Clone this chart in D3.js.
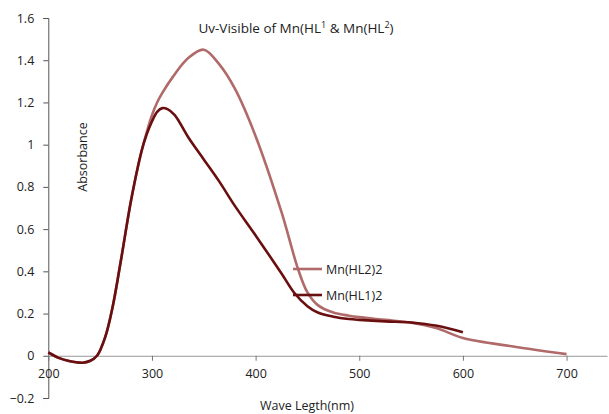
<!DOCTYPE html>
<html>
<head>
<meta charset="utf-8">
<script src="https://cdn.jsdelivr.net/npm/d3@7"></script>
<style>
  body { margin: 0; background: #fff; }
  text { font-family: "Open Sans", "Noto Sans", sans-serif; fill: #222; }
</style>
</head>
<body>
<svg id="chart"></svg>
<script>
// Wavelengths (nm) and absorbance
const wlHL1 = [200, 210, 220, 233, 240, 247, 255, 262, 270, 280, 290, 295, 300, 305, 310, 315, 322, 335, 350, 365, 380, 400, 425, 437, 450, 460, 475, 490, 500, 525, 550, 575, 600];
const absHL1 = [0.016, -0.01, -0.025, -0.033, -0.025, 0.0, 0.09, 0.23, 0.45, 0.74, 0.97, 1.05, 1.11, 1.155, 1.173, 1.168, 1.14, 1.035, 0.93, 0.825, 0.71, 0.57, 0.39, 0.30, 0.235, 0.205, 0.185, 0.174, 0.17, 0.163, 0.158, 0.142, 0.111];

const wlHL2 = [200, 210, 220, 233, 240, 247, 255, 262, 270, 280, 290, 295, 300, 305, 310, 320, 335, 350, 365, 380, 400, 425, 441, 450, 460, 475, 490, 500, 525, 550, 575, 600, 650, 700];
const absHL2 = [0.016, -0.01, -0.025, -0.033, -0.025, 0.0, 0.09, 0.23, 0.45, 0.74, 0.97, 1.06, 1.14, 1.2, 1.245, 1.32, 1.41, 1.45, 1.38, 1.265, 1.04, 0.68, 0.41, 0.30, 0.24, 0.205, 0.19, 0.183, 0.17, 0.157, 0.13, 0.084, 0.043, 0.008];

const xTicks = [200, 300, 400, 500, 600, 700];
const yTicks = [-0.2, 0, 0.2, 0.4, 0.6, 0.8, 1, 1.2, 1.4, 1.6];

const series = [
    { name: "Mn(HL2)2", wl: wlHL2, abs: absHL2, color: "#b06a6a", legendY: 269 },
    { name: "Mn(HL1)2", wl: wlHL1, abs: absHL1, color: "#6a0f0f", legendY: 295 },
];

const width = 609, height = 414;
const svg = d3.select("#chart").attr("width", width).attr("height", height);

// plot scales
const x = d3.scaleLinear().domain([200, 739]).range([48.3, 607]);
const y = d3.scaleLinear().domain([-0.2, 1.6]).range([398, 18]);

// y axis
const yAxis = svg.append("g")
    .attr("transform", `translate(${x(200)},0)`)
    .call(d3.axisLeft(y).tickValues(yTicks).tickSize(5).tickFormat(d => d3.format("")(+d.toFixed(1))));
yAxis.select(".domain").attr("stroke", "#555");
yAxis.selectAll(".tick line").attr("stroke", "#555");
yAxis.selectAll(".tick text").attr("x", -14).attr("font-size", 12.5)
    .attr("font-family", "'Open Sans', sans-serif").attr("fill", "#222");

// x axis at y = 0
const xAxis = svg.append("g")
    .attr("transform", `translate(0,${y(0)})`)
    .call(d3.axisBottom(x).tickValues(xTicks).tickSize(5).tickSizeOuter(0));
xAxis.select(".domain").attr("stroke", "#999");
xAxis.selectAll(".tick line").attr("stroke", "#777");
xAxis.selectAll(".tick text").attr("y", 13).attr("font-size", 12.5)
    .attr("font-family", "'Open Sans', sans-serif").attr("fill", "#222");

// lines
const line = d3.line()
    .x(d => x(d[0]))
    .y(d => y(d[1]))
    .curve(d3.curveCatmullRom.alpha(0.5));

series.forEach(s => {
    svg.append("path")
        .datum(s.wl.map((w, i) => [w, s.abs[i]]))
        .attr("fill", "none")
        .attr("stroke", s.color)
        .attr("stroke-width", 2.6)
        .attr("d", line);
});

// legend
series.forEach(s => {
    svg.append("line")
        .attr("x1", 293).attr("x2", 322)
        .attr("y1", s.legendY).attr("y2", s.legendY)
        .attr("stroke", s.color).attr("stroke-width", 2.6);
    svg.append("text")
        .attr("x", 326).attr("y", s.legendY + 4.5)
        .attr("font-size", 12.5)
        .text(s.name);
});

// title
const title = svg.append("text")
    .attr("x", 296).attr("y", 33)
    .attr("text-anchor", "middle")
    .attr("font-size", 13.5);
title.append("tspan").text("Uv-Visible of Mn(HL");
title.append("tspan").attr("dy", -5).attr("font-size", 9).text("1");
title.append("tspan").attr("dy", 5).text(" & Mn(HL");
title.append("tspan").attr("dy", -5).attr("font-size", 9).text("2");
title.append("tspan").attr("dy", 5).text(")");

// axis titles
svg.append("text")
    .attr("transform", "translate(87,157) rotate(-90)")
    .attr("text-anchor", "middle")
    .attr("font-size", 12.5)
    .text("Absorbance");

svg.append("text")
    .attr("x", 307).attr("y", 410)
    .attr("text-anchor", "middle")
    .attr("font-size", 12.5)
    .text("Wave Legth(nm)");
</script>
</body>
</html>
